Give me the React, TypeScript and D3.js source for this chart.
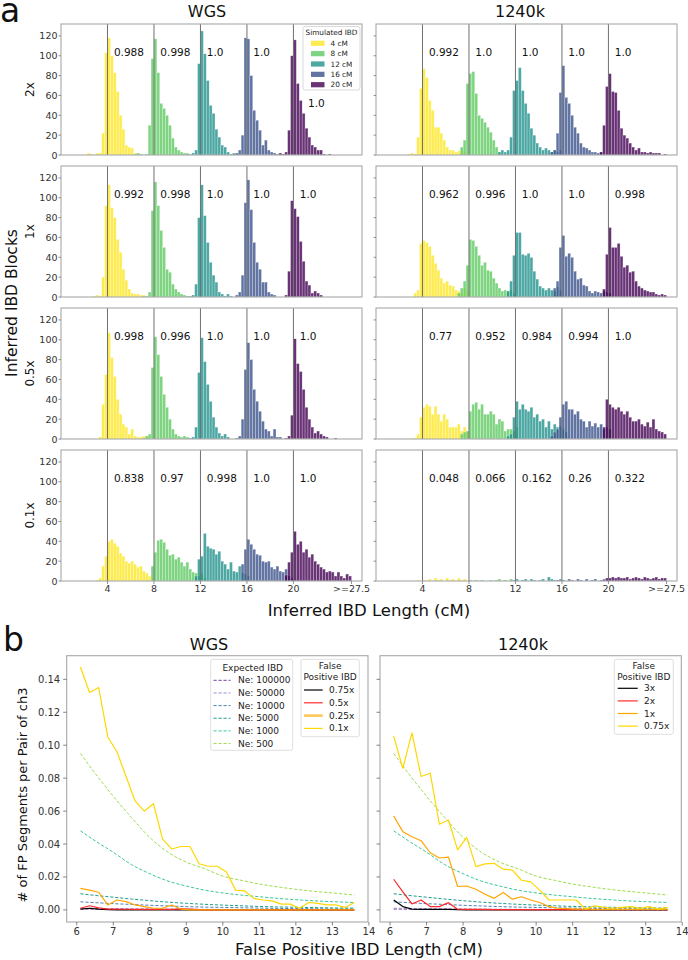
import React from 'react';
import * as d3 from 'd3';

const FONT = '"DejaVu Sans", Verdana, sans-serif';

// ---------- panel a: inferred IBD length histograms ----------
const BIN = 0.25;
const SIM_CM = [4, 8, 12, 16, 20];
const SIM_LABELS = ['4 cM', '8 cM', '12 cM', '16 cM', '20 cM'];
const SIM_COLORS = ['#fde725', '#5ec962', '#21918c', '#3b528b', '#440154'];
const COVERAGE = ['2x', '1x', '0.5x', '0.1x'];
const A_Y_TICKS = [0, 20, 40, 60, 80, 100, 120];
const A_X_TICKS = [4, 8, 12, 16, 20, 25];
const A_X_LABELS = ['4', '8', '12', '16', '20', '>=27.5'];

// first bin (cM) of each simulated length, then counts per 0.25 cM bin
const WGS_2X_START = [2.25, 6.25, 10.75, 14.75, 18.75];
const WGS_2X = [
  [2, 1, 0, 2, 2, 22, 103, 118, 100, 83, 64, 40, 26, 10, 8, 7, 2, 1],
  [1, 2, 1, 0, 1, 30, 97, 117, 83, 52, 47, 40, 30, 17, 8, 5, 3, 2, 2, 1],
  [1, 0, 2, 5, 92, 125, 102, 75, 50, 42, 26, 18, 10, 8, 3, 1, 2, 1],
  [1, 2, 5, 20, 118, 117, 80, 45, 35, 25, 10, 15, 5, 3, 2, 1],
  [2, 1, 3, 25, 100, 116, 72, 55, 42, 27, 18, 10, 8, 5, 5, 1, 0, 1],
];
const WGS_1X_START = [2.75, 7.0, 11.0, 15.0, 19.25];
const WGS_1X = [
  [1, 2, 1, 20, 92, 113, 90, 80, 58, 45, 28, 17, 8, 4, 3, 3, 2, 2, 1],
  [1, 1, 5, 87, 116, 92, 67, 50, 28, 25, 13, 8, 5, 3, 2, 1],
  [1, 2, 13, 80, 113, 82, 55, 35, 22, 15, 5, 3, 1, 3, 1],
  [2, 5, 22, 95, 118, 88, 55, 35, 28, 15, 15, 5, 3, 2],
  [2, 26, 97, 89, 81, 56, 36, 16, 12, 4, 6, 4, 2],
];
const WGS_05X_START = [3.25, 7.0, 11.0, 15.0, 19.25];
const WGS_05X = [
  [2, 35, 65, 107, 82, 63, 40, 25, 15, 12, 5, 10, 3, 2, 2, 3, 3],
  [1, 3, 5, 72, 103, 85, 63, 45, 32, 20, 10, 5, 3, 2, 3, 2],
  [1, 2, 12, 67, 102, 78, 55, 38, 22, 12, 6, 3, 5, 2],
  [1, 3, 20, 70, 97, 80, 50, 38, 28, 18, 10, 8, 3, 10, 2, 2],
  [1, 3, 24, 101, 76, 68, 50, 32, 20, 12, 6, 8, 5, 3, 2, 0, 0, 1],
];
const WGS_01X_START = [3.0, 7.75, 11.5, 15.5, 19.25];
const WGS_01X = [
  [1, 3, 15, 25, 40, 42, 38, 35, 28, 25, 20, 18, 20, 17, 14, 15, 10, 8, 5, 3],
  [15, 29, 41, 42, 39, 32, 26, 27, 22, 24, 19, 15, 19, 12, 9, 8, 5, 8, 3],
  [5, 22, 25, 48, 35, 33, 32, 27, 30, 20, 17, 12, 19, 10, 9, 15, 8, 7, 5],
  [17, 32, 42, 37, 32, 27, 26, 20, 19, 20, 14, 12, 15, 10, 9, 12, 5, 3],
  [6, 19, 29, 50, 37, 40, 29, 32, 24, 27, 20, 17, 14, 12, 9, 10, 9, 5, 9, 5, 3, 7, 5],
];
const K_2X_START = [2.75, 7.25, 10.5, 15.0, 19.25];
const K_2X = [
  [1, 2, 1, 18, 67, 87, 78, 55, 45, 28, 28, 22, 15, 8, 5, 5, 3, 4, 5, 3],
  [8, 15, 72, 82, 84, 62, 40, 37, 33, 28, 23, 15, 8, 3],
  [3, 5, 3, 5, 18, 65, 75, 88, 65, 52, 42, 27, 20, 12, 8, 5, 7, 5, 3, 5, 3, 5],
  [3, 5, 22, 63, 90, 58, 52, 40, 28, 22, 12, 8, 7, 5, 3, 3, 2, 3],
  [3, 30, 69, 82, 64, 63, 45, 27, 20, 17, 12, 8, 5, 7, 3, 3, 2, 3, 2, 2, 2, 0, 1],
];
const K_1X_START = [3.25, 7.0, 11.25, 15.25, 19.5];
const K_1X = [
  [4, 7, 54, 57, 55, 51, 42, 34, 27, 19, 14, 16, 12, 11, 7, 6, 4, 9, 7],
  [4, 9, 16, 32, 58, 57, 51, 42, 32, 35, 27, 26, 19, 14, 9, 6, 7, 6, 7, 4],
  [6, 16, 42, 65, 65, 43, 42, 44, 40, 26, 18, 11, 9, 7, 9, 7, 6, 10, 7],
  [9, 16, 50, 62, 41, 44, 40, 26, 18, 19, 12, 11, 6, 4, 6, 5, 4, 6, 5, 4],
  [8, 43, 70, 50, 50, 54, 41, 30, 32, 25, 26, 16, 11, 9, 7, 6, 5, 5, 3, 2, 3, 2],
];
const K_05X_START = [3.0, 7.25, 11.25, 15.0, 19.5];
const K_05X = [
  [1, 1, 5, 22, 32, 35, 33, 25, 33, 25, 18, 25, 20, 12, 12, 12, 15, 8, 12, 8],
  [5, 7, 8, 28, 35, 37, 30, 35, 25, 25, 28, 25, 15, 20, 18, 8, 10, 10, 8, 12],
  [3, 5, 22, 38, 30, 35, 30, 28, 32, 22, 25, 18, 20, 12, 18, 10, 15, 12, 13, 10, 7],
  [3, 7, 10, 22, 35, 38, 30, 30, 25, 28, 20, 18, 12, 18, 13, 16, 12, 15, 10, 12, 10],
  [12, 40, 35, 32, 30, 32, 28, 25, 28, 22, 18, 18, 20, 15, 13, 17, 12, 20, 10, 8, 7, 5],
];
const K_01X_START = [3.5, 8.0, 11.75, 15.5, 19.5];
const K_01X = [
  [1, 0, 1, 0, 2, 0, 3, 1, 2, 0, 3, 1, 2, 0, 3, 1, 2],
  [1, 0, 1, 0, 1, 0, 0, 1, 0, 1, 2, 0, 1, 0, 2, 1],
  [1, 2, 0, 1, 2, 0, 2, 1, 0, 1, 2, 0, 4, 2, 1, 0, 2, 1],
  [1, 0, 1, 0, 2, 1, 0, 2, 1, 0, 2, 0, 1, 2, 0, 1, 2, 1],
  [1, 3, 3, 4, 3, 4, 3, 3, 4, 2, 3, 4, 3, 2, 4, 3, 2, 3, 4, 2, 3, 3],
];

// fraction recovered, printed next to each simulated length
const WGS_ACC = [
  ['0.988', '0.998', '1.0', '1.0', '1.0'],
  ['0.992', '0.998', '1.0', '1.0', '1.0'],
  ['0.998', '0.996', '1.0', '1.0', '1.0'],
  ['0.838', '0.97', '0.998', '1.0', '1.0'],
];
const K_ACC = [
  ['0.992', '1.0', '1.0', '1.0', '1.0'],
  ['0.962', '0.996', '1.0', '1.0', '0.998'],
  ['0.77', '0.952', '0.984', '0.994', '1.0'],
  ['0.048', '0.066', '0.162', '0.26', '0.322'],
];
const NOTE_Y = 100;
const NOTE_DX = 0.55;
const WGS_2X_LAST_NOTE = { x: 21.25, y: 48 };

// ---------- panel b: false positive IBD ----------
const FP_X = [6.1, 6.35, 6.6, 6.85, 7.1, 7.35, 7.6, 7.85, 8.1, 8.35, 8.6, 8.85, 9.1, 9.35, 9.6, 9.85,
  10.1, 10.35, 10.6, 10.85, 11.1, 11.35, 11.6, 11.85, 12.1, 12.35, 12.6, 12.85, 13.1, 13.35, 13.6];

const WGS_FP_075 = [0.0005, 0.001, 0.0005, 0.0002, 0, 0, 0, 0, 0, 0,
  0, 0, 0, 0, 0, 0, 0, 0, 0, 0,
  0, 0, 0, 0, 0, 0, 0, 0, 0, 0, 0];
const WGS_FP_05 = [0.001, 0.0025, 0.0012, 0.0005, 0.0005, 0.0004, 0.0003, 0.0003, 0.0003, 0.0003,
  0.0003, 0.0006, 0.0005, 0.0002, 0, 0, 0, 0, 0, 0,
  0, 0, 0, 0, 0, 0, 0, 0, 0, 0, 0];
const WGS_FP_025 = [0.0131, 0.012, 0.0107, 0.003, 0.006, 0.005, 0.003, 0.002, 0.001, 0.001,
  0.003, 0.0005, 0, 0, 0, 0, 0, 0, 0, 0,
  0, 0, 0, 0, 0, 0, 0, 0, 0, 0, 0];
const WGS_FP_01 = [0.1475, 0.132, 0.135, 0.105, 0.096, 0.081, 0.066, 0.06, 0.0645, 0.043,
  0.037, 0.0385, 0.0385, 0.028, 0.0265, 0.0265, 0.023, 0.012, 0.0115, 0.007,
  0.006, 0.0055, 0.0035, 0.0035, 0.001, 0.0045, 0.004, 0.003, 0.003, 0.0015, 0.0045];

const K_FP_3X = [0.006, 0.002, 0.0005, 0.0003, 0.0003, 0.0003, 0.0003, 0.0002, 0, 0,
  0, 0, 0, 0, 0, 0, 0, 0, 0, 0,
  0, 0, 0, 0, 0, 0, 0, 0, 0, 0, 0];
const K_FP_2X = [0.0186, 0.011, 0.0036, 0.006, 0.002, 0.002, 0.0044, 0.0004, 0.0003, 0.0003,
  0.0003, 0.0002, 0.0002, 0.0002, 0.0002, 0.0002, 0.0002, 0.0002, 0.0002, 0.0002,
  0.0002, 0.0002, 0.0002, 0.0002, 0.0002, 0.0002, 0.0002, 0.0002, 0.0002, 0.0002, 0.0002];
const K_FP_1X = [0.057, 0.0475, 0.0444, 0.042, 0.0347, 0.0315, 0.032, 0.0142, 0.0145, 0.0125,
  0.0095, 0.007, 0.0105, 0.0065, 0.008, 0.006, 0.0045, 0.002, 0.001, 0.0008,
  0.0005, 0.0005, 0.0003, 0.0003, 0.0003, 0.0003, 0.0003, 0.0003, 0.0003, 0.0003, 0.0003];
const K_FP_075X = [0.1055, 0.086, 0.1075, 0.081, 0.083, 0.052, 0.0546, 0.0364, 0.044, 0.0263,
  0.0279, 0.0283, 0.0247, 0.0242, 0.018, 0.017, 0.012, 0.006, 0.006, 0.006,
  0.006, 0.0005, 0.0025, 0.0015, 0.001, 0.0015, 0.002, 0.001, 0.002, 0.0005, 0.0015];

const WGS_FP_LABELS = ['0.75x', '0.5x', '0.25x', '0.1x'];
const K_FP_LABELS = ['3x', '2x', '1x', '0.75x'];
const FP_COLORS = ['#000000', '#ff2a2a', '#ffa500', '#ffd700'];

const EXP_X = [6.1, 6.5, 7, 7.5, 8, 8.5, 9, 9.5, 10, 10.5, 11, 11.5, 12, 12.5, 13, 13.6];
const NE_100000 = [0.0005, 0.00045, 0.0004, 0.00035, 0.0003, 0.00025, 0.0002, 0.00018, 0.00015, 0.00013, 0.0001, 0.0001, 0.00008, 0.00007, 0.00005, 0.00005];
const NE_50000 = [0.001, 0.0009, 0.0008, 0.0007, 0.0006, 0.0005, 0.0004, 0.00035, 0.0003, 0.00025, 0.0002, 0.0002, 0.00015, 0.00015, 0.0001, 0.0001];
const NE_10000 = [0.0049, 0.0044, 0.0038, 0.0033, 0.0028, 0.0024, 0.002, 0.0017, 0.0015, 0.0013, 0.0011, 0.0009, 0.0008, 0.0007, 0.0006, 0.0005];
const NE_5000 = [0.0098, 0.0088, 0.0077, 0.0066, 0.0056, 0.0047, 0.004, 0.0034, 0.0029, 0.0025, 0.0021, 0.0018, 0.0016, 0.0014, 0.0012, 0.0011];
const NE_1000 = [0.048, 0.042, 0.035, 0.0275, 0.022, 0.0175, 0.0145, 0.012, 0.0103, 0.009, 0.008, 0.007, 0.0062, 0.0055, 0.005, 0.0045];
const NE_500 = [0.095, 0.083, 0.069, 0.056, 0.044, 0.035, 0.029, 0.025, 0.0205, 0.018, 0.0157, 0.014, 0.0125, 0.0113, 0.0103, 0.009];
const NE_LABELS = ['Ne: 100000', 'Ne: 50000', 'Ne: 10000', 'Ne: 5000', 'Ne: 1000', 'Ne: 500'];
const NE_COLORS = ['#7b3fa0', '#9a92cf', '#4f82b4', '#1f9e8c', '#3cc79a', '#9fdb4f'];
const B_Y_TICKS = [0, 0.02, 0.04, 0.06, 0.08, 0.1, 0.12, 0.14];
const B_X_TICKS = [6, 7, 8, 9, 10, 11, 12, 13, 14];

// layout
const A_LEFTS = [61, 376];
const A_TOPS = [24, 166, 308, 450];
const A_W = 301;
const A_H = 131;
const B_LEFTS = [66.7, 380];
const B_W = 301.3;
const B_TOP = 655.7;
const B_H = 266.3;

const AXIS = '#a8a8a8';
const TICK_TEXT = '#333';

function HistLegend({ right, top }: { right: number; top: number }) {
  const x0 = right - 59;
  return (
    <g fontSize={7.3} fill="#222">
      <rect x={x0} y={top + 2.5} width={57} height={63.5} rx={2} fill="#fff" fillOpacity={0.85} stroke="#d0d0d0" strokeWidth={0.8} />
      <text x={x0 + 28.5} y={top + 8.7} textAnchor="middle" dominantBaseline="central">Simulated IBD</text>
      {SIM_LABELS.map((lab, k) => (
        <g key={lab}>
          <rect x={x0 + 8} y={top + 19.3 + k * 10.35 - 2.6} width={13.5} height={5.2}
            fill={SIM_COLORS[k]} fillOpacity={0.8} />
          <text x={x0 + 27.5} y={top + 19.3 + k * 10.35} dominantBaseline="central">{lab}</text>
        </g>
      ))}
    </g>
  );
}

function HistPanel({ col, row, starts, counts, acc }: {
  col: number; row: number; starts: number[]; counts: number[][]; acc: string[];
}) {
  const left = A_LEFTS[col];
  const top = A_TOPS[row];
  const x = d3.scaleLinear().domain([0, 25.9]).range([left, left + A_W]);
  const y = d3.scaleLinear().domain([0, 132]).range([top + A_H, top]);
  const bottom = y(0);
  return (
    <g>
      {counts.map((arr, k) => (
        <g key={k} fill={SIM_COLORS[k]} fillOpacity={0.8} stroke="#ffffff" strokeOpacity={0.55} strokeWidth={0.45}>
          {arr.map((c, i) => {
            if (!c) return null;
            const b0 = starts[k] + i * BIN;
            return <rect key={i} x={x(b0)} y={y(c)} width={x(b0 + BIN) - x(b0)} height={bottom - y(c)} />;
          })}
        </g>
      ))}
      {SIM_CM.map(v => (
        <line key={v} x1={x(v)} x2={x(v)} y1={top} y2={bottom} stroke="#707070" strokeWidth={1} />
      ))}
      <rect x={left} y={top} width={A_W} height={A_H} fill="none" stroke={AXIS} strokeWidth={1.1} />
      {A_Y_TICKS.map(t => (
        <g key={t}>
          <line x1={left - 2.5} x2={left} y1={y(t)} y2={y(t)} stroke="#777" strokeWidth={0.8} />
          {col === 0 && (
            <text x={left - 3.5} y={y(t)} textAnchor="end" dominantBaseline="central" fontSize={9.5} fill={TICK_TEXT}>{t}</text>
          )}
        </g>
      ))}
      {row === 3 && A_X_TICKS.map((t, i) => (
        <g key={t}>
          <line x1={x(t)} x2={x(t)} y1={bottom} y2={bottom + 3} stroke="#777" strokeWidth={0.8} />
          <text x={x(t)} y={bottom + 11} textAnchor="middle" fontSize={9.5} fill={TICK_TEXT}>{A_X_LABELS[i]}</text>
        </g>
      ))}
      {acc.map((s, k) => {
        const pos = col === 0 && row === 0 && k === 4 ? WGS_2X_LAST_NOTE : { x: SIM_CM[k] + NOTE_DX, y: NOTE_Y };
        return <text key={k} x={x(pos.x)} y={y(pos.y)} fontSize={10.5} fill="#111">{s}</text>;
      })}
      {col === 0 && row === 0 && <HistLegend right={left + A_W} top={top} />}
    </g>
  );
}

function FpPanel({ col, series, labels }: { col: number; series: number[][]; labels: string[] }) {
  const left = B_LEFTS[col];
  const x = d3.scaleLinear().domain([5.725, 13.975]).range([left, left + B_W]);
  const y = d3.scaleLinear().domain([-0.00735, 0.15435]).range([B_TOP + B_H, B_TOP]);
  const fpLine = d3.line<number>().x((_, i) => x(FP_X[i])).y(d => y(d));
  const expLine = d3.line<number>().x((_, i) => x(EXP_X[i])).y(d => y(d)).curve(d3.curveMonotoneX);
  const expected = [NE_100000, NE_50000, NE_10000, NE_5000, NE_1000, NE_500];
  const bottom = B_TOP + B_H;

  const fpBox = col === 0
    ? { x0: 301, w: 58.3, y0: 659.3, h: 77.4, t1: 666.2, t2: 676.7, e0: 690, dy: 12.8, lx: 304, lw: 18.7, tx: 329 }
    : { x0: 614.3, w: 59, y0: 659.3, h: 75, t1: 666.2, t2: 676.7, e0: 688.3, dy: 12.6, lx: 617.7, lw: 20, tx: 644 };

  return (
    <g>
      {expected.map((arr, k) => (
        <path key={k} d={expLine(arr) ?? ''} fill="none" stroke={NE_COLORS[k]} strokeWidth={1} strokeDasharray="3.2,1.8" />
      ))}
      {series.map((arr, k) => (
        <path key={k} d={fpLine(arr) ?? ''} fill="none" stroke={FP_COLORS[k]} strokeWidth={1.2} strokeLinejoin="round" />
      ))}
      <rect x={left} y={B_TOP} width={B_W} height={B_H} fill="none" stroke={AXIS} strokeWidth={1.1} />
      {B_Y_TICKS.map(t => (
        <g key={t}>
          <line x1={left - 3.5} x2={left} y1={y(t)} y2={y(t)} stroke="#666" strokeWidth={0.8} />
          {col === 0 && (
            <text x={left - 6.5} y={y(t)} textAnchor="end" dominantBaseline="central" fontSize={10} fill={TICK_TEXT}>{t.toFixed(2)}</text>
          )}
        </g>
      ))}
      {B_X_TICKS.map(t => (
        <g key={t}>
          <line x1={x(t)} x2={x(t)} y1={bottom} y2={bottom + 3.5} stroke="#666" strokeWidth={0.8} />
          <text x={x(t)} y={bottom + 12.5} textAnchor="middle" fontSize={10} fill={TICK_TEXT}>{t}</text>
        </g>
      ))}

      {col === 0 && (
        <g fontSize={9} fill="#222">
          <rect x={210.7} y={659.3} width={82} height={91} rx={2} fill="#fff" fillOpacity={0.85} stroke="#d6d6d6" strokeWidth={0.8} />
          <text x={252.7} y={668} textAnchor="middle" dominantBaseline="central">Expected IBD</text>
          {NE_LABELS.map((lab, k) => (
            <g key={lab}>
              <line x1={213.5} x2={230.5} y1={680.3 + k * 12.65} y2={680.3 + k * 12.65} stroke={NE_COLORS[k]} strokeWidth={1} strokeDasharray="3.2,1.8" />
              <text x={238} y={680.3 + k * 12.65} dominantBaseline="central">{lab}</text>
            </g>
          ))}
        </g>
      )}

      <g fontSize={9} fill="#222">
        <rect x={fpBox.x0} y={fpBox.y0} width={fpBox.w} height={fpBox.h} rx={2} fill="#fff" fillOpacity={0.85} stroke="#d6d6d6" strokeWidth={0.8} />
        <text x={fpBox.x0 + fpBox.w / 2} y={fpBox.t1} textAnchor="middle" dominantBaseline="central">False</text>
        <text x={fpBox.x0 + fpBox.w / 2} y={fpBox.t2} textAnchor="middle" dominantBaseline="central">Positive IBD</text>
        {labels.map((lab, k) => {
          const thick = col === 0 && k === 2;
          return (
            <g key={lab}>
              <line x1={fpBox.lx} x2={fpBox.lx + fpBox.lw} y1={fpBox.e0 + k * fpBox.dy} y2={fpBox.e0 + k * fpBox.dy}
                stroke={thick ? '#ffc65a' : FP_COLORS[k]} strokeWidth={thick ? 2.6 : 1.2} />
              <text x={fpBox.tx} y={fpBox.e0 + k * fpBox.dy} dominantBaseline="central">{lab}</text>
            </g>
          );
        })}
      </g>
    </g>
  );
}

export default function App() {
  const wgsPanels = [
    { starts: WGS_2X_START, counts: WGS_2X },
    { starts: WGS_1X_START, counts: WGS_1X },
    { starts: WGS_05X_START, counts: WGS_05X },
    { starts: WGS_01X_START, counts: WGS_01X },
  ];
  const kPanels = [
    { starts: K_2X_START, counts: K_2X },
    { starts: K_1X_START, counts: K_1X },
    { starts: K_05X_START, counts: K_05X },
    { starts: K_01X_START, counts: K_01X },
  ];

  return (
    <svg width={688} height={960} viewBox="0 0 688 960" fontFamily={FONT}
      style={{ position: 'absolute', left: 0, top: 0, background: '#fff' }}>
      <rect width={688} height={960} fill="#fff" />

      {/* a */}
      <text x={0} y={22} fontSize={33} fill="#111">a</text>
      <text x={207} y={17.3} textAnchor="middle" fontSize={16} fill="#111">WGS</text>
      <text x={520} y={17.3} textAnchor="middle" fontSize={16} fill="#111">1240k</text>
      {wgsPanels.map((p, r) => (
        <HistPanel key={`w${r}`} col={0} row={r} starts={p.starts} counts={p.counts} acc={WGS_ACC[r]} />
      ))}
      {kPanels.map((p, r) => (
        <HistPanel key={`k${r}`} col={1} row={r} starts={p.starts} counts={p.counts} acc={K_ACC[r]} />
      ))}
      {COVERAGE.map((c, r) => (
        <text key={c} transform={`translate(34,${A_TOPS[r] + A_H / 2}) rotate(-90)`} textAnchor="middle" fontSize={12} fill="#111">{c}</text>
      ))}
      <text transform="translate(17,303) rotate(-90)" textAnchor="middle" fontSize={15.5} fill="#111">Inferred IBD Blocks</text>
      <text x={369} y={616} textAnchor="middle" fontSize={16.5} fill="#111">Inferred IBD Length (cM)</text>

      {/* b */}
      <text x={3} y={651} fontSize={33} fill="#111">b</text>
      <text x={209} y={650} textAnchor="middle" fontSize={16} fill="#111">WGS</text>
      <text x={523} y={650} textAnchor="middle" fontSize={16} fill="#111">1240k</text>
      <FpPanel col={0} series={[WGS_FP_075, WGS_FP_05, WGS_FP_025, WGS_FP_01]} labels={WGS_FP_LABELS} />
      <FpPanel col={1} series={[K_FP_3X, K_FP_2X, K_FP_1X, K_FP_075X]} labels={K_FP_LABELS} />
      <text transform="translate(27,795) rotate(-90)" textAnchor="middle" fontSize={13} fill="#111"># of FP Segments per Pair of ch3</text>
      <text x={359} y={955} textAnchor="middle" fontSize={16.5} fill="#111">False Positive IBD Length (cM)</text>
    </svg>
  );
}
